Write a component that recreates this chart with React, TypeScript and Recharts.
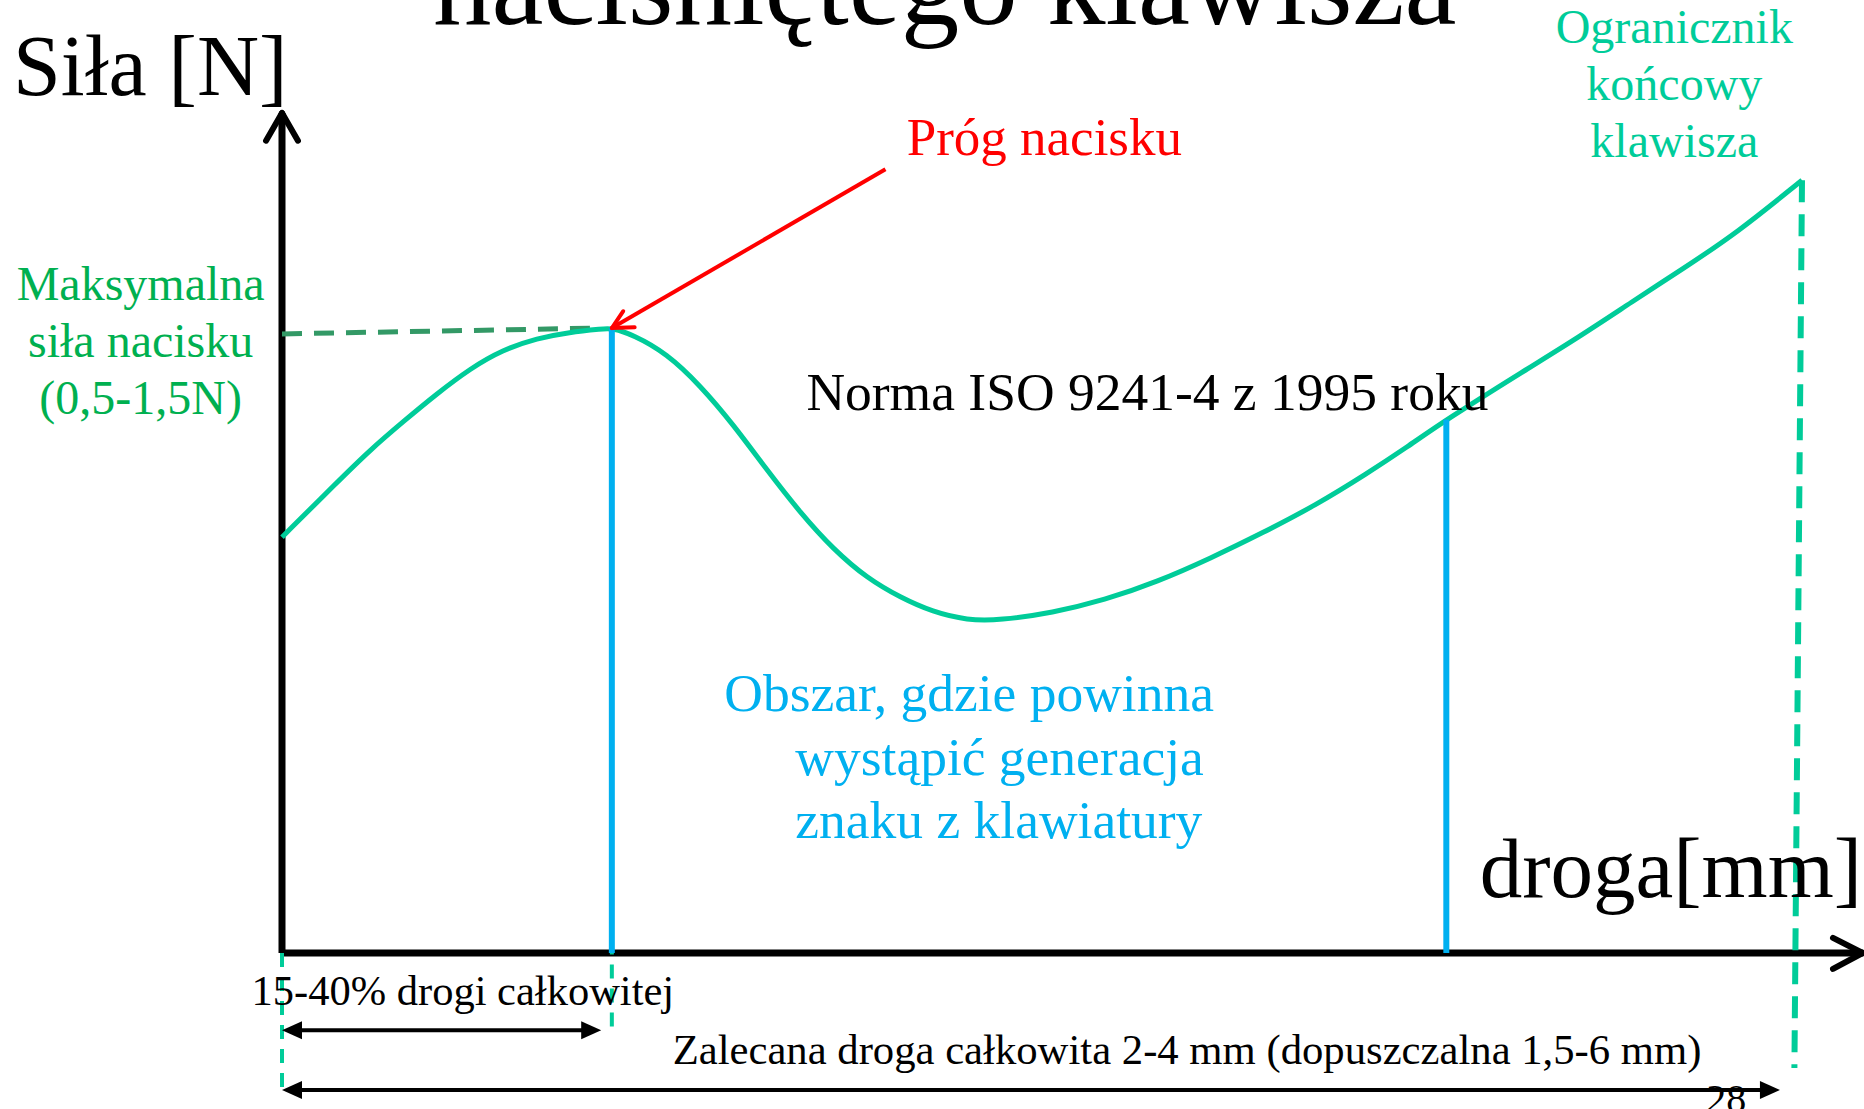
import { LineChart, Line, XAxis, YAxis, ReferenceLine, ReferenceDot } from 'recharts'

// droga klawisza (% drogi do ogranicznika) i siła (jednostki umowne)
const travel = [0, 3.6, 5.8, 8.0, 10.2, 12.4, 14.5, 16.8, 18.9, 21.1, 21.7, 23.1, 25.3, 27.5, 29.7, 31.9, 34.1, 36.3, 38.5, 40.7, 42.8, 45.1, 47.2, 50.7, 54.1, 57.6, 61.1, 64.5, 68.0, 71.4, 74.0, 76.6, 81.8, 85.3, 88.8, 92.2, 95.7, 100]
const force = [49.5, 56.0, 59.9, 63.3, 66.6, 69.6, 71.8, 73.2, 73.9, 74.3, 74.4, 73.6, 71.4, 67.6, 62.9, 57.5, 52.4, 48.0, 44.6, 42.3, 40.6, 39.6, 39.6, 40.5, 42.0, 44.2, 47.0, 50.0, 53.3, 57.1, 60.2, 63.5, 69.4, 73.3, 77.5, 81.5, 85.7, 92.0]

const thresholdX = 21.7
const thresholdF = 74.4
const generationX = 76.6
const generationF = 63.5
const stopX = 100
const stopF = 92.0

const data = travel.map((x, i) => ({ x, y: force[i] }))

const SERIF = '"Liberation Serif", "Times New Roman", serif'
const CURVE = '#00CC99'
const BLUE = '#00B0F0'

type Opts = { size: number; color: string; anchor?: 'start' | 'middle' | 'end'; lh?: number; dx?: number[] }

const text = (lines: string[], o: Opts) => (p: any) => (
  <text x={p.cx} y={p.cy} fontSize={o.size} fill={o.color} textAnchor={o.anchor ?? 'start'} fontFamily={SERIF}>
    {lines.map((l, i) => (
      <tspan key={i} x={p.cx + (o.dx?.[i] ?? 0)} dy={i === 0 ? 0 : o.lh ?? o.size * 1.2}>{l}</tspan>
    ))}
  </text>
)

const head = (dir: 'left' | 'right') => (p: any) => {
  const s = dir === 'left' ? 1 : -1
  return <polygon points={`${p.cx},${p.cy} ${p.cx + s * 20},${p.cy - 9} ${p.cx + s * 20},${p.cy + 9}`} fill="#000" />
}

export default function App() {
  return (
    <div style={{ position: 'absolute', left: 0, top: 0, background: '#fff' }}>
      <LineChart width={1864} height={1109} data={data} margin={{ top: 113, right: 62, bottom: 156, left: 282 }}>
        <XAxis type="number" dataKey="x" domain={[0, 100]} hide />
        <YAxis type="number" domain={[0, 100]} hide />

        {/* osie */}
        <ReferenceLine segment={[{ x: 0, y: 0 }, { x: 0, y: 100 }]} stroke="#000" strokeWidth={7} ifOverflow="visible" />
        <ReferenceLine segment={[{ x: -1.05, y: 96.7 }, { x: 0, y: 100 }]} stroke="#000" strokeWidth={6} strokeLinecap="round" ifOverflow="visible" />
        <ReferenceLine segment={[{ x: 1.05, y: 96.7 }, { x: 0, y: 100 }]} stroke="#000" strokeWidth={6} strokeLinecap="round" ifOverflow="visible" />
        <ReferenceLine segment={[{ x: 0, y: 0 }, { x: 104, y: 0 }]} stroke="#000" strokeWidth={7} ifOverflow="visible" />
        <ReferenceLine segment={[{ x: 102.04, y: 1.8 }, { x: 104, y: 0 }]} stroke="#000" strokeWidth={6} strokeLinecap="round" ifOverflow="visible" />
        <ReferenceLine segment={[{ x: 102.04, y: -1.9 }, { x: 104, y: 0 }]} stroke="#000" strokeWidth={6} strokeLinecap="round" ifOverflow="visible" />

        {/* linie pomocnicze */}
        <ReferenceLine segment={[{ x: 0, y: 73.7 }, { x: thresholdX - 0.7, y: thresholdF }]} stroke="#339966" strokeWidth={5} strokeDasharray="20 12" ifOverflow="visible" />
        <ReferenceLine segment={[{ x: stopX, y: stopF }, { x: 99.5, y: -13.7 }]} stroke={CURVE} strokeWidth={6} strokeDasharray="22 12" ifOverflow="visible" />
        <ReferenceLine segment={[{ x: 0, y: 0 }, { x: 0, y: -16.9 }]} stroke={CURVE} strokeWidth={4} strokeDasharray="14 10" ifOverflow="visible" />
        <ReferenceLine segment={[{ x: thresholdX, y: 1.5 }, { x: thresholdX, y: -8.8 }]} stroke={CURVE} strokeWidth={4} strokeDasharray="14 10" ifOverflow="visible" />

        <Line type="basis" dataKey="y" stroke={CURVE} strokeWidth={5} dot={false} isAnimationActive={false} />

        <ReferenceLine segment={[{ x: thresholdX, y: 0 }, { x: thresholdX, y: thresholdF }]} stroke={BLUE} strokeWidth={6} ifOverflow="visible" />
        <ReferenceLine segment={[{ x: generationX, y: 0 }, { x: generationX, y: generationF }]} stroke={BLUE} strokeWidth={6} ifOverflow="visible" />

        {/* strzałka progu */}
        <ReferenceLine segment={[{ x: 39.7, y: 93.3 }, { x: thresholdX, y: thresholdF }]} stroke="#FF0000" strokeWidth={4} ifOverflow="visible" />
        <ReferenceLine segment={[{ x: 22.45, y: 76.4 }, { x: thresholdX, y: thresholdF }]} stroke="#FF0000" strokeWidth={4} strokeLinecap="round" ifOverflow="visible" />
        <ReferenceLine segment={[{ x: 23.2, y: 74.5 }, { x: thresholdX, y: thresholdF }]} stroke="#FF0000" strokeWidth={4} strokeLinecap="round" ifOverflow="visible" />

        {/* zakresy drogi */}
        <ReferenceLine segment={[{ x: 0.6, y: -9.2 }, { x: 20.4, y: -9.2 }]} stroke="#000" strokeWidth={4} ifOverflow="visible" />
        <ReferenceDot x={0} y={-9.2} r={0} ifOverflow="visible" shape={head('left')} />
        <ReferenceDot x={21.0} y={-9.2} r={0} ifOverflow="visible" shape={head('right')} />
        <ReferenceLine segment={[{ x: 0.6, y: -16.3 }, { x: 98, y: -16.3 }]} stroke="#000" strokeWidth={4} ifOverflow="visible" />
        <ReferenceDot x={0} y={-16.3} r={0} ifOverflow="visible" shape={head('left')} />
        <ReferenceDot x={98.55} y={-16.3} r={0} ifOverflow="visible" shape={head('right')} />

        {/* opisy */}
        <ReferenceDot x={43.6} y={110.6} r={0} ifOverflow="visible" shape={text(['naciśniętego klawisza'], { size: 117, color: '#000', anchor: 'middle' })} />
        <ReferenceDot x={-17.7} y={102.1} r={0} ifOverflow="visible" shape={text(['Siła [N]'], { size: 86, color: '#000' })} />
        <ReferenceDot x={91.6} y={108.3} r={0} ifOverflow="visible" shape={text(['Ogranicznik', 'końcowy', 'klawisza'], { size: 48, color: CURVE, anchor: 'middle', lh: 57 })} />
        <ReferenceDot x={-9.3} y={77.7} r={0} ifOverflow="visible" shape={text(['Maksymalna', 'siła nacisku', '(0,5-1,5N)'], { size: 48, color: '#00B050', anchor: 'middle', lh: 57 })} />
        <ReferenceDot x={41.1} y={95.0} r={0} ifOverflow="visible" shape={text(['Próg nacisku'], { size: 53, color: '#FF0000' })} />
        <ReferenceDot x={34.5} y={64.6} r={0} ifOverflow="visible" shape={text(['Norma ISO 9241-4 z 1995 roku'], { size: 53.5, color: '#000' })} />
        <ReferenceDot x={29.1} y={28.8} r={0} ifOverflow="visible" shape={text(['Obszar, gdzie powinna', 'wystąpić generacja', 'znaku z klawiatury'], { size: 53.5, color: BLUE, lh: 63.5, dx: [0, 71, 71] })} />
        <ReferenceDot x={78.8} y={6.7} r={0} ifOverflow="visible" shape={text(['droga[mm]'], { size: 85, color: '#000' })} />
        <ReferenceDot x={-2.0} y={-6.2} r={0} ifOverflow="visible" shape={text(['15-40% drogi całkowitej'], { size: 42.5, color: '#000' })} />
        <ReferenceDot x={25.7} y={-13.2} r={0} ifOverflow="visible" shape={text(['Zalecana droga całkowita 2-4 mm (dopuszczalna 1,5-6 mm)'], { size: 42.7, color: '#000' })} />
        <ReferenceDot x={93.7} y={-18.9} r={0} ifOverflow="visible" shape={text(['28'], { size: 40, color: '#000' })} />
      </LineChart>
    </div>
  )
}
